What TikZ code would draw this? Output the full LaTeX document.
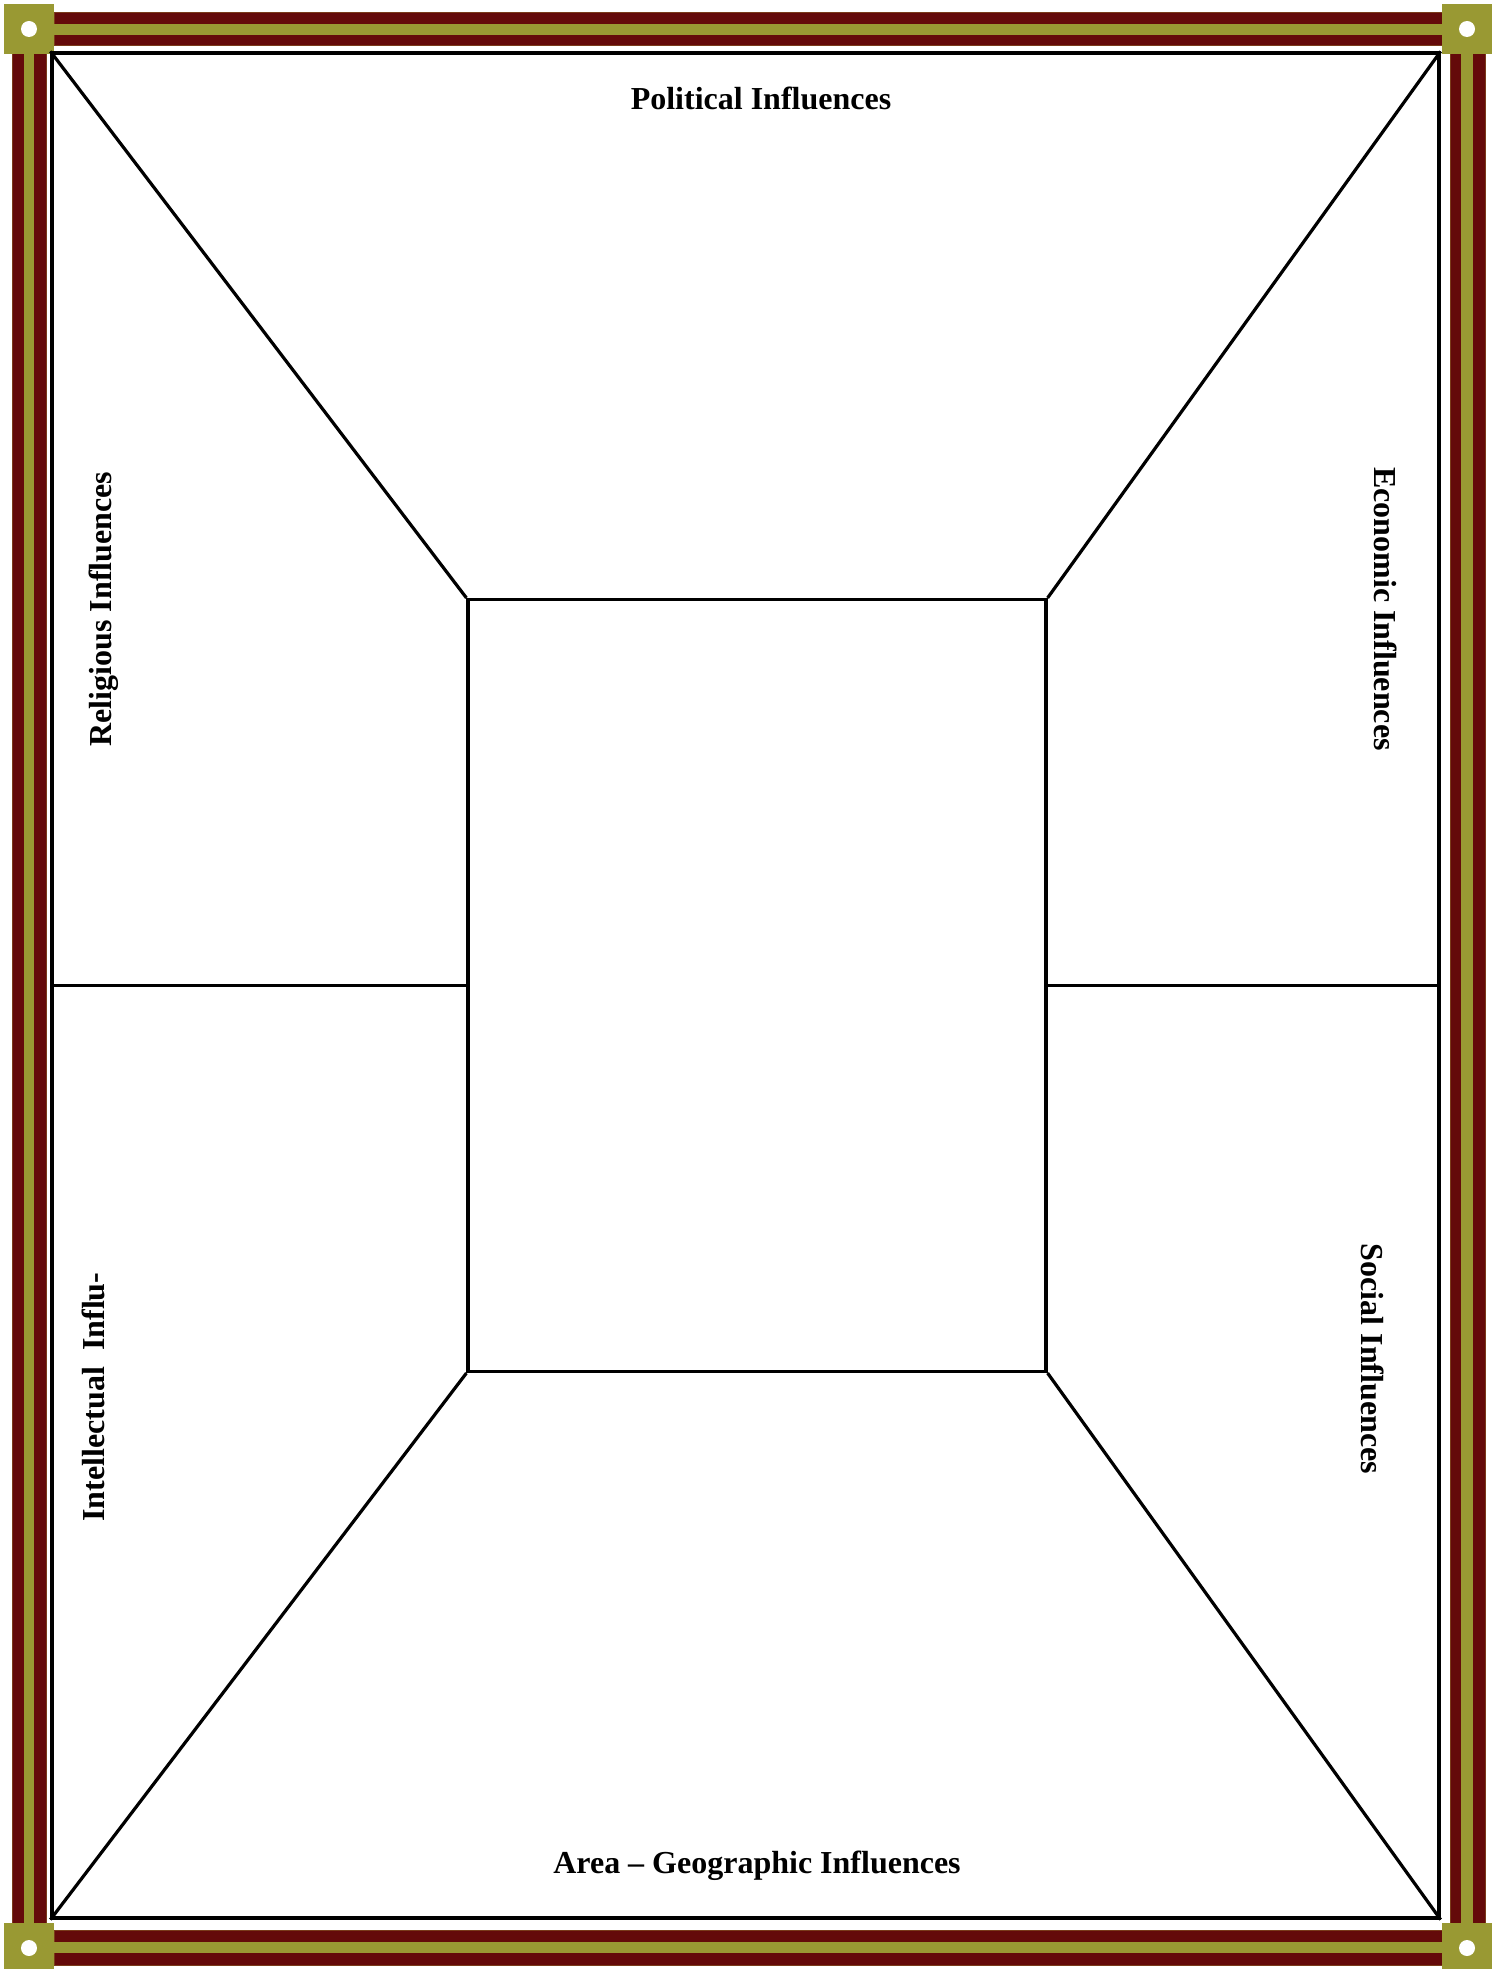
\documentclass[tikz,border=0pt]{standalone}
\usepackage{fontspec}
\setmainfont{Liberation Serif}
\usepackage{tikz}
\usetikzlibrary{positioning, calc}
\definecolor{bandred}{HTML}{640A0A}
\definecolor{bandolive}{HTML}{999933}
\definecolor{bandedge}{HTML}{7A3B1A}

\tikzset{
  band/.style={fill=bandred, draw=bandedge, line width=0.5pt},
  bandmid/.style={fill=bandolive},
  cornerbox/.style={fill=bandolive, minimum size=25pt, inner sep=0pt},
  cornerhole/.style={fill=white, circle, minimum size=8pt, inner sep=0pt},
  wall/.style={draw=black, line width=1.6pt},
  heading/.style={font=\fontsize{16}{19}\selectfont\bfseries, inner sep=0pt}
}

\begin{document}
\begin{tikzpicture}[x=0.5pt, y=-0.5pt]
    \useasboundingbox (0,0) rectangle (1494,1969);
    \fill[white] (0,0) rectangle (1494,1969);

    % striped border
    \draw[band] (54,13) rectangle (1443,46);
    \fill[bandmid] (54,24) rectangle (1443,35);
    \draw[band] (54,1930) rectangle (1443,1965);
    \fill[bandmid] (54,1942) rectangle (1443,1953);
    \draw[band] (12,54) rectangle (46,1923);
    \fill[bandmid] (24,54) rectangle (34,1923);
    \draw[band] (1450,54) rectangle (1485,1923);
    \fill[bandmid] (1461,54) rectangle (1473,1923);

    % corner blocks
    \node[cornerbox] (cnw) at (29,29) {};
    \node[cornerbox] (cne) at (1467,29) {};
    \node[cornerbox] (csw) at (29,1948) {};
    \node[cornerbox] (cse) at (1467,1948) {};
    \foreach \c in {cnw, cne, csw, cse}
      \node[cornerhole] at (\c) {};

    % frame and middle box
    \node[wall, minimum width=693.5pt, minimum height=932.5pt, inner sep=0pt] (frame) at (745.5,985.5) {};
    \node[wall, minimum width=289pt, minimum height=386pt, inner sep=0pt] (core) at (757,985.5) {};

    \draw[wall] (frame.north west) -- (core.north west);
    \draw[wall] (frame.north east) -- (core.north east);
    \draw[wall] (frame.south west) -- (core.south west);
    \draw[wall] (frame.south east) -- (core.south east);
    \draw[wall] (frame.west) -- (core.west);
    \draw[wall] (frame.east) -- (core.east);

    % labels
    \node[heading] (political) at (761,98) {Political Influences};
    \node[heading] (area) at (757,1866) {Area -- Geographic Influences};
    \node[heading, rotate=90] (religious) at (104,609) {Religious Influences};
    \node[heading, rotate=90] (intellectual) at (93,1397) {Intellectual\ \ Influ-};
    \node[heading, rotate=-90] (economic) at (1386,609) {Economic Influences};
    \node[heading, rotate=-90] (social) at (1373,1359) {Social Influences};
\end{tikzpicture}
\end{document}
